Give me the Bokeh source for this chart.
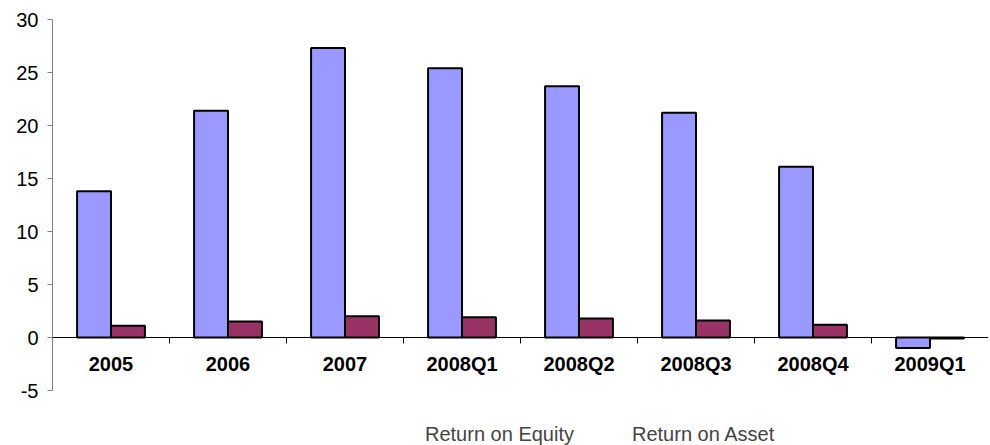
from bokeh.plotting import figure
from bokeh.layouts import column
from bokeh.models import (ColumnDataSource, Range1d, LinearAxis, FixedTicker,
                          Legend, LegendItem, LabelSet)
from bokeh.core.properties import value
from bokeh.transform import dodge
from bokeh.embed import file_html
from bokeh.resources import INLINE

categories = ["2005", "2006", "2007", "2008Q1", "2008Q2", "2008Q3", "2008Q4", "2009Q1"]
roe = [13.8, 21.4, 27.3, 25.4, 23.7, 21.2, 16.1, -1.0]
roa = [1.1, 1.5, 2.0, 1.9, 1.8, 1.6, 1.2, -0.1]
y_ticks = [-5, 0, 5, 10, 15, 20, 25, 30]
y_tick_labels = ["-5", "0", "5", "10", "15", "20", "25", "30"]
series_names = ["Return on Equity", "Return on Asset"]
series_colors = ["#9999FF", "#993366"]

n = len(categories)
centers = [i + 0.5 for i in range(n)]
bounds = list(range(1, n))
src = ColumnDataSource(dict(x=centers, y0=[0] * n, roe=roe, roa=roa, cat=categories))

FONT = "Liberation Sans"

p = figure(frame_width=936, frame_height=371, min_border_left=52, min_border_top=19,
           min_border_right=2, min_border_bottom=12,
           x_range=Range1d(0, n), y_range=Range1d(-5, 30),
           output_backend="svg", toolbar_location=None, x_axis_location=None)
p.outline_line_color = None
p.xgrid.visible = False
p.ygrid.visible = False
p.background_fill_color = "white"

bw = 0.29
p.vbar(x=dodge("x", -bw / 2, range=p.x_range), top="roe", bottom=0, width=bw,
       source=src, fill_color=series_colors[0], line_color="black", line_width=2)
p.vbar(x=dodge("x", bw / 2, range=p.x_range), top="roa", bottom=0, width=bw,
       source=src, fill_color=series_colors[1], line_color="black", line_width=2)

# y axis
ya = p.yaxis[0]
ya.ticker = FixedTicker(ticks=y_ticks)
ya.major_label_overrides = {t: s for t, s in zip(y_ticks, y_tick_labels)}
ya.minor_tick_line_color = None
ya.major_tick_in = 0
ya.major_tick_out = 5
ya.axis_line_color = "#808080"
ya.major_tick_line_color = "#808080"
ya.major_label_text_font = FONT
ya.major_label_text_font_size = "20px"
ya.major_label_text_color = "black"
ya.major_label_standoff = 9

# zero line with tick marks at category boundaries (pointing down)
xa = LinearAxis(fixed_location=0, ticker=FixedTicker(ticks=bounds),
                major_label_overrides={b: "" for b in bounds})
xa.major_tick_in = 6
xa.major_tick_out = 0
xa.minor_tick_line_color = None
xa.axis_line_color = "black"
xa.major_tick_line_color = "black"
xa.major_label_standoff = 0
p.add_layout(xa, "above")

# category labels under the zero line
cat_labels = LabelSet(x="x", y="y0", text="cat", source=src, y_offset=-33,
                      text_align="center", text_baseline="alphabetic",
                      text_font=value(FONT), text_font_style="bold",
                      text_font_size="20px", text_color="black")
p.add_layout(cat_labels)

# legend strip: a separate small figure below the chart
lg = figure(width=990, height=45, min_border=0, x_range=Range1d(0, 1), y_range=Range1d(0, 1),
            output_backend="svg", toolbar_location=None,
            x_axis_location=None, y_axis_location=None)
lg.outline_line_color = None
lg.xgrid.visible = False
lg.ygrid.visible = False
items = []
for name, col in zip(series_names, series_colors):
    r = lg.vbar(x=[], top=[], width=0.1, fill_color=col, line_color="black", line_width=2)
    items.append(LegendItem(label=name, renderers=[r]))
legend = Legend(items=items, orientation="horizontal", location=(360, 1),
                label_text_font=FONT, label_text_font_size="20px",
                glyph_width=11, glyph_height=11, label_standoff=2, spacing=45,
                padding=0, margin=0, border_line_color=None, background_fill_alpha=0)
lg.add_layout(legend, "center")

layout = column(p, lg, spacing=0)
open("out.html", "w").write(file_html(layout, INLINE))
